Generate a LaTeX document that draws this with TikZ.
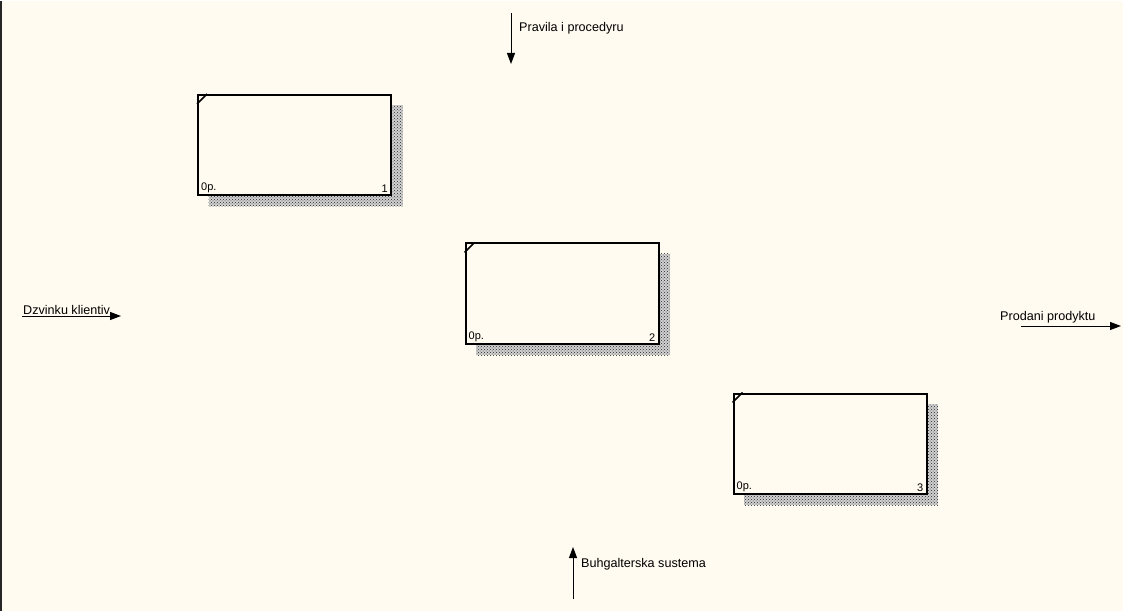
\documentclass[tikz,border=0pt]{standalone}
\usepackage{fontspec}
\setmainfont{Liberation Sans}
\usetikzlibrary{positioning,calc,arrows.meta,patterns}
\definecolor{paper}{RGB}{255,251,240}

\begin{document}
\begin{tikzpicture}[
  x=1pt, y=-1pt,
  actbox/.style={
    draw,
    line width=2pt,
    fill=paper,
    minimum width=193pt,
    minimum height=100pt,
    inner sep=0pt
  },
  shadowbox/.style={
    fill=black!18,
    postaction={pattern=crosshatch dots, pattern color=black!85},
    minimum width=194pt,
    minimum height=101pt,
    inner sep=0pt
  },
  boxtext/.style={
    font=\fontsize{11}{13}\selectfont,
    inner xsep=4pt,
    inner ysep=3pt
  },
  lbl/.style={
    font=\fontsize{12.6}{15}\selectfont,
    inner sep=1pt
  },
  arr/.style={-{Triangle[length=11pt,width=8pt]}, line width=1pt}
]
\fill[paper] (0,0) rectangle (1123,610);
\draw[line width=2pt, black!85] (1,0) -- (1,610);

% Activity boxes with shadows
\foreach \n/\cx/\cy in {1/294.5/144, 2/562/292.5, 3/830/442.5} {
  \node[shadowbox] (shadow\n) at (\cx+11,\cy+11) {};
  \node[actbox] (box\n) at (\cx,\cy) {};
  \draw[line width=1.6pt] ($(box\n.north west)+(0,10)$) -- ($(box\n.north west)+(10,0)$);
  \node[boxtext, anchor=south west] (cost\n) at (box\n.south west) {0p.};
  \node[boxtext, anchor=south east] (num\n) at (box\n.south east) {\n};
}

% Arrows
\coordinate (inS) at (22,315);
\coordinate (inE) at (121,315);
\draw[arr] (inS) -- (inE);
\node[lbl, anchor=south west] (inlbl) at (inS) {Dzvinku klientiv};

\coordinate (ctlS) at (511,12);
\coordinate (ctlE) at (511,63);
\draw[arr] (ctlS) -- (ctlE);
\node[lbl, anchor=west] (ctllbl) at (518,27) {Pravila i procedyru};

\coordinate (outS) at (1021,325);
\coordinate (outE) at (1121,325);
\draw[arr] (outS) -- (outE);
\node[lbl, anchor=west] (outlbl) at (999,316) {Prodani prodyktu};

\coordinate (mechS) at (573,598);
\coordinate (mechE) at (573,546);
\draw[arr] (mechS) -- (mechE);
\node[lbl, anchor=west] (mechlbl) at (580,563) {Buhgalterska sustema};

\end{tikzpicture}
\end{document}
